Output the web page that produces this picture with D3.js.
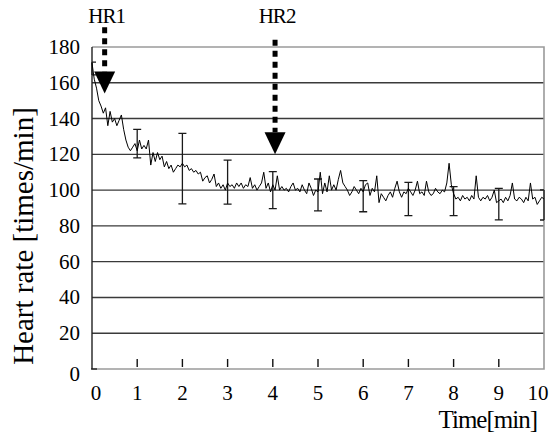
<!DOCTYPE html>
<html lang="en">
<head>
<meta charset="utf-8">
<title>Heart rate</title>
<style type="text/css">
	body { margin: 0; background-color: white; }
	svg text { font-family: "Liberation Serif", "DejaVu Serif", serif; }
	.grid line { stroke: #3a3a3a; stroke-width: 1.4; }
	.tick-label { font-size: 21px; fill: black; }
	.title { font-size: 25px; fill: black; }
	.trace { fill: none; stroke: black; stroke-width: 1; }
	.ebar { stroke: #1a1a1a; stroke-width: 1.3; fill: none; }
</style>
</head>
<body>
<script src="https://cdnjs.cloudflare.com/ajax/libs/d3/7.8.5/d3.min.js"></script>
<script type="text/javascript">

// heart rate trace, one reading every 0.05 min from 0 to 10 min
var traceStep = 0.05;
var traceValues = [
	171, 162, 157, 150, 147, 143, 146, 136, 144, 138,
	140, 136, 139, 142, 134, 128, 124, 122, 124, 126,
	122, 128, 123, 125, 123, 128, 114, 121, 116, 121,
	117, 119, 113, 116, 112, 114, 110, 112, 114, 113,
	115, 113, 114, 111, 112, 110, 111, 109, 110, 105,
	107, 108, 104, 106, 109, 102, 104, 101, 103, 100,
	104, 102, 103, 101, 104, 102, 104, 101, 103, 102,
	107, 101, 103, 100, 102, 104, 110, 101, 104, 99,
	103, 100, 108, 100, 102, 100, 101, 99, 102, 104,
	100, 101, 99, 103, 100, 98, 104, 101, 97, 100,
	99, 110, 98, 104, 99, 108, 100, 103, 100, 106,
	111, 104, 102, 100, 97, 99, 102, 100, 98, 101,
	99, 103, 104, 97, 101, 99, 108, 93, 98, 96,
	94, 97, 99, 96, 101, 105, 99, 96, 99, 98,
	101, 99, 97, 100, 105, 98, 99, 97, 105, 99,
	97, 98, 101, 99, 98, 100, 99, 104, 115, 103,
	98, 95, 96, 94, 97, 95, 96, 94, 97, 95,
	108, 96, 94, 96, 95, 97, 94, 96, 100, 93,
	94, 95, 93, 96, 94, 97, 104, 95, 94, 96,
	95, 93, 96, 94, 104, 95, 96, 92, 94, 96,
	95
];

// mean +/- sd at each whole minute
var barTimes = [0, 1, 2, 3, 4, 5, 6, 7, 8, 9, 10];
var barMeans = [168, 126, 112, 104.5, 100, 97.3, 96.6, 95, 93.8, 92.2, 91.7];
var barSds   = [3.6, 8, 19.7, 12.3, 10.3, 8.9, 8.7, 9.3, 8.1, 8.8, 8.4];

// annotation arrows
var arrowNames = ["HR1", "HR2"];
var arrowTimes = [0.28, 4.05];
var arrowFrom  = [191, 184];
var arrowTo    = [154, 120];

var yTicks = [0, 20, 40, 60, 80, 100, 120, 140, 160, 180];
var xTicks = [0, 1, 2, 3, 4, 5, 6, 7, 8, 9, 10];
var xTickLabels = ["0", "1", "2", "3", "4", "5", "6", "7", "8", "9", "10"];

var fullwidth = 560;
var fullheight = 436;
var plot = { left: 92, right: 544, top: 47, bottom: 369 };

var svg = d3.select("body")
	.append("svg")
	.attr("width", fullwidth)
	.attr("height", fullheight);

var xScale = d3.scaleLinear()
	.domain([0, 10])
	.range([plot.left, plot.right]);

var yScale = d3.scaleLinear()
	.domain([0, 180])
	.range([plot.bottom, plot.top]);

// horizontal grid lines
svg.append("g")
	.attr("class", "grid")
	.selectAll("line")
	.data(yTicks.filter(function(d) { return d > 0 && d < 180; }))
	.enter()
	.append("line")
	.attr("x1", plot.left)
	.attr("x2", plot.right)
	.attr("y1", function(d) { return yScale(d); })
	.attr("y2", function(d) { return yScale(d); });

// frame: light top / right / bottom, dark left axis
svg.append("path")
	.attr("d", "M" + plot.left + "," + yScale(180) + "H" + plot.right + "V" + yScale(0) + "H" + plot.left)
	.attr("fill", "none")
	.attr("stroke", "#9a9a9a")
	.attr("stroke-width", 1.6);

svg.append("line")
	.attr("x1", plot.left).attr("x2", plot.left)
	.attr("y1", yScale(180)).attr("y2", yScale(0))
	.attr("stroke", "#222")
	.attr("stroke-width", 1.4);

svg.append("line")
	.attr("x1", plot.left - 1).attr("x2", plot.left + 5)
	.attr("y1", yScale(0)).attr("y2", yScale(0))
	.attr("stroke", "#222")
	.attr("stroke-width", 1.4);

// x ticks point up into the plot
svg.append("g")
	.selectAll("line")
	.data(xTicks.filter(function(d) { return d > 0 && d < 10; }))
	.enter()
	.append("line")
	.attr("x1", function(d) { return xScale(d); })
	.attr("x2", function(d) { return xScale(d); })
	.attr("y1", yScale(0) - 10)
	.attr("y2", yScale(0) - 2)
	.attr("stroke", "#111")
	.attr("stroke-width", 1.4);

// y tick labels
svg.append("g")
	.selectAll("text")
	.data(yTicks)
	.enter()
	.append("text")
	.attr("class", "tick-label")
	.attr("x", 80)
	.attr("y", function(d) { return yScale(d) + (d === 0 ? 12 : 7); })
	.style("text-anchor", "end")
	.text(function(d) { return d; });

// x tick labels
svg.append("g")
	.selectAll("text")
	.data(xTicks)
	.enter()
	.append("text")
	.attr("class", "tick-label")
	.attr("x", function(d) { return xScale(d) + (d === 0 ? 4 : (d === 10 ? -6 : 0)); })
	.attr("y", 400)
	.style("text-anchor", "middle")
	.text(function(d, i) { return xTickLabels[i]; });

// axis titles
svg.append("text")
	.attr("class", "title")
	.attr("x", 537)
	.attr("y", 428)
	.style("text-anchor", "end")
	.style("letter-spacing", "-1px")
	.text("Time[min]");

svg.append("text")
	.attr("class", "title")
	.attr("transform", "translate(33,236) rotate(-90)")
	.style("text-anchor", "middle")
	.style("font-size", "29px")
	.text("Heart rate [times/min]");

// error bars
var bars = svg.append("g").attr("class", "ebar");
barTimes.forEach(function(t, i) {
	var x = xScale(t);
	var hi = yScale(barMeans[i] + barSds[i]);
	var lo = yScale(barMeans[i] - barSds[i]);
	var cap = 4;
	var x0 = Math.max(x - cap, plot.left);
	var x1 = Math.min(x + cap, plot.right);
	bars.append("path")
		.attr("d", "M" + x + "," + hi + "V" + lo +
			"M" + x0 + "," + hi + "H" + x1 +
			"M" + x0 + "," + lo + "H" + x1);
});

// heart rate trace
var line = d3.line()
	.x(function(d, i) { return xScale(i * traceStep); })
	.y(function(d) { return yScale(d); });

svg.append("path")
	.datum(traceValues)
	.attr("class", "trace")
	.attr("d", line);

// HR1 / HR2 arrows
var headH = 22, headW = 21;
arrowNames.forEach(function(name, i) {
	var x = xScale(arrowTimes[i]);
	var tip = yScale(arrowTo[i]);
	svg.append("line")
		.attr("x1", x).attr("x2", x)
		.attr("y1", yScale(arrowFrom[i]))
		.attr("y2", tip - headH)
		.attr("stroke", "black")
		.attr("stroke-width", 5)
		.attr("stroke-dasharray", "6,5");
	svg.append("path")
		.attr("d", "M" + (x - headW / 2) + "," + (tip - headH) +
			"L" + (x + headW / 2) + "," + (tip - headH) +
			"L" + x + "," + tip + "Z")
		.attr("fill", "black");
	svg.append("text")
		.attr("class", "tick-label")
		.attr("x", x + 2)
		.attr("y", 23)
		.style("text-anchor", "middle")
		.style("letter-spacing", "-1px")
		.text(name);
});

</script>
</body>
</html>
